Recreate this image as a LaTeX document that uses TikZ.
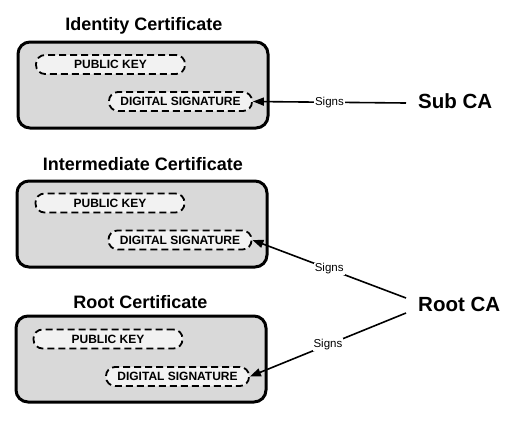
\documentclass[tikz,border=0pt]{standalone}
\usepackage{fontspec}
\setmainfont{Liberation Sans}
\usepackage{xcolor}
\usetikzlibrary{arrows.meta}

\definecolor{boxgray}{RGB}{217,217,217}
\definecolor{fieldgray}{RGB}{242,242,242}

\tikzset{
    certbox/.style={draw, line width=3pt, rounded corners=12pt, fill=boxgray,
        minimum width=250pt, minimum height=86pt},
    field/.style={draw, line width=1.8pt, dash pattern=on 7pt off 4pt,
        rounded corners=9pt, fill=fieldgray, minimum height=19pt,
        font=\fontsize{12}{14}\selectfont\bfseries},
    certtitle/.style={anchor=base, font=\fontsize{18}{21}\selectfont\bfseries},
    ca/.style={anchor=west, inner xsep=12pt, font=\fontsize{20.5}{24}\selectfont\bfseries},
    signs/.style={-{Triangle[length=11pt,width=8pt]}, line width=1.6pt},
    signlabel/.style={fill=white, inner sep=1pt, font=\fontsize{11.5}{13}\selectfont}
}

\begin{document}
\begin{tikzpicture}[x=1pt, y=-1pt]
    \useasboundingbox (0,0) rectangle (520,424);

    % Identity certificate
    \node[certtitle] (idtitle) at (144,30) {Identity Certificate};
    \node[certbox] (idbox) at (143,85) {};
    \node[field, minimum width=149pt] (idkey) at (110.5,64.5) {PUBLIC KEY};
    \node[field, minimum width=143pt] (idsig) at (180.5,101.5) {DIGITAL SIGNATURE};

    % Intermediate certificate
    \node[certtitle] (inttitle) at (143,170) {Intermediate Certificate};
    \node[certbox] (intbox) at (142,224) {};
    \node[field, minimum width=149pt] (intkey) at (110,203) {PUBLIC KEY};
    \node[field, minimum width=143pt] (intsig) at (180,240) {DIGITAL SIGNATURE};

    % Root certificate
    \node[certtitle] (roottitle) at (140.5,308) {Root Certificate};
    \node[certbox] (rootbox) at (141,359) {};
    \node[field, minimum width=149pt] (rootkey) at (108,339) {PUBLIC KEY};
    \node[field, minimum width=143pt] (rootsig) at (177.5,376.5) {DIGITAL SIGNATURE};

    % Authorities
    \node[ca] (subca) at (406,101) {Sub CA};
    \node[ca] (rootca) at (406,304) {Root CA};

    % Signing arrows
    \draw[signs] ([yshift=-2pt]subca.west) -- node[signlabel] (subsigns) {Signs} (idsig.east);
    \draw[signs] ([yshift=6pt]rootca.west) -- node[signlabel] (intsigns) {Signs} (intsig.east);
    \draw[signs] ([yshift=-9pt]rootca.west) -- node[signlabel] (rootsigns) {Signs} (rootsig.east);
\end{tikzpicture}
\end{document}
